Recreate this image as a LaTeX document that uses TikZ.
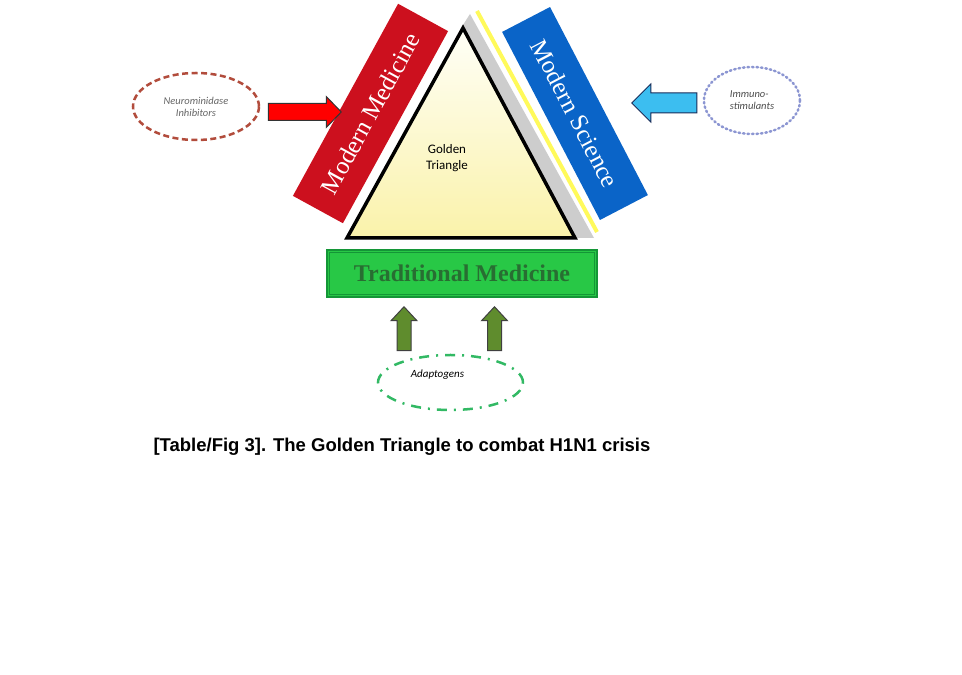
\documentclass[tikz,border=0pt]{standalone}
\usepackage{fontspec}
\setmainfont{Liberation Serif}
\newfontfamily\calib{Carlito}
\newfontfamily\capfont{Liberation Sans}
\usepackage{tikz}
\usetikzlibrary{positioning,shapes,calc}

\definecolor{medred}{RGB}{204,16,30}
\definecolor{sciblue}{RGB}{10,100,200}
\definecolor{tradgreen}{RGB}{40,200,70}
\definecolor{tradedge}{RGB}{20,150,55}
\definecolor{tradtext}{RGB}{40,110,50}
\definecolor{olive}{RGB}{95,140,45}
\definecolor{neuraedge}{RGB}{178,76,60}
\definecolor{immunoedge}{RGB}{140,150,210}
\definecolor{adaptedge}{RGB}{50,185,100}
\definecolor{arrowblue}{RGB}{60,190,240}
\definecolor{stripgray}{RGB}{205,205,205}
\definecolor{stripyellow}{RGB}{255,250,90}

\tikzset{
  sidebox/.style={draw=none, text=white, font=\fontsize{25}{25}\selectfont,
    inner sep=0pt},
  bubble/.style={ellipse, line width=2.5pt, inner sep=0pt, align=center,
    font=\calib\itshape\fontsize{10.5}{12}\selectfont},
  blockarrow/.style={line width=1pt, line join=miter}
}

\begin{document}
\begin{tikzpicture}[x=1pt,y=1pt]
\fill[white] (0,0) rectangle (962,675);
\useasboundingbox (0,0) rectangle (962,675);

% triangle corners
\coordinate (apex) at (463,647);
\coordinate (bl) at (347,437);
\coordinate (br) at (575,437);

% gray band and yellow line behind the right side
\fill[stripgray] (463,650) -- (470,661) -- (594,437) -- (575,437) -- cycle;
\draw[stripyellow, line width=4pt] (477,664) -- (597,443);

% the golden triangle
\shade[top color=yellow!3, bottom color={rgb,255:red,250;green,242;blue,170}] (apex) -- (bl) -- (br) -- cycle;
\draw[line width=3.5pt, line join=miter] (apex) -- (bl) -- (br) -- cycle;
\node[font=\calib\fontsize{13}{16}\selectfont, align=center] (golden) at (447,516.5) {Golden\\Triangle};

% the three sides
\node[sidebox, fill=medred, rotate=61.3, minimum width=219pt, minimum height=57pt] (modmed) at (370.5,561.5) {Modern Medicine};
\node[sidebox, fill=sciblue, rotate=-62.5, minimum width=212pt, minimum height=54pt] (modsci) at (575,561.5) {Modern Science};
\node[draw=tradedge, fill=tradgreen, line width=1.5pt, minimum width=270pt, minimum height=47pt,
  text=tradtext, font=\bfseries\fontsize{24}{24}\selectfont] (tradmed) at (462,401.5) {Traditional Medicine};
\draw[tradedge, line width=0.6pt] ([shift={(3,3)}]tradmed.south west) rectangle ([shift={(-3,-3)}]tradmed.north east);

% the three inputs
\node[bubble, draw=neuraedge, dash pattern=on 6pt off 3.5pt, minimum width=126pt, minimum height=67pt,
  text=black!60] (neura) at (196,568.5) {Neurominidase\\Inhibitors};
\node[bubble, draw=immunoedge, dash pattern=on 1.5pt off 3pt, line cap=round, minimum width=96pt, minimum height=67pt,
  align=left, text=black!70] (immuno) at (752,574.5) {Immuno-\\stimulants};
\node[bubble, draw=adaptedge, dash pattern=on 10pt off 7pt on 2pt off 7pt, minimum width=145pt, minimum height=55pt] (adapt) at (450.5,292.5) {};
\node[font=\calib\itshape\fontsize{11}{12}\selectfont] (adapttext) at (437.5,300) {Adaptogens};

% block arrows
\coordinate (redtail) at ($(neura.east)+(8,-6)$);
\draw[blockarrow, fill=red, draw=black!80] (redtail) ++(0,-8) -- ++(58,0) -- ++(0,-7) -- ++(15,15.5) -- ++(-15,15.5) -- ++(0,-7) -- ++(-58,0) -- cycle;

\coordinate (bluetail) at ($(immuno.west)+(-6,-2.5)$);
\draw[blockarrow, fill=arrowblue, draw={rgb,255:red,25;green,45;blue,90}] (bluetail) ++(0,-10) -- ++(-46,0) -- ++(0,-9) -- ++(-19,19) -- ++(19,19) -- ++(0,-9) -- ++(46,0) -- cycle;

\coordinate (leftfoot) at ($(adapt.north)+(-46.5,3)$);
\coordinate (rightfoot) at ($(adapt.north)+(44,3)$);
\foreach \f in {leftfoot,rightfoot}
  \draw[blockarrow, fill=olive, draw=black!75] (\f) ++(-7,0) -- ++(0,30) -- ++(-6,0) -- ++(13,14) -- ++(13,-14) -- ++(-6,0) -- ++(0,-30) -- cycle;

% caption
\node[font=\capfont\bfseries\fontsize{18.5}{20}\selectfont, anchor=west] (caption) at (150,228) {[Table/Fig 3]. The Golden Triangle to combat H1N1 crisis};
\end{tikzpicture}
\end{document}
